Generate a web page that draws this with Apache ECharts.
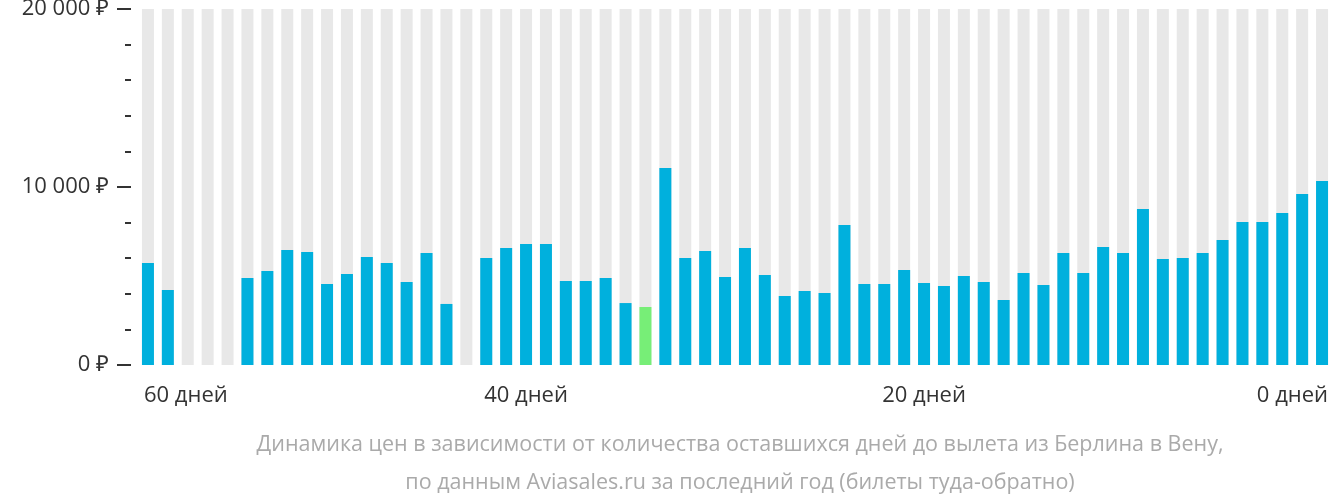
<!DOCTYPE html>
<html><head><meta charset="utf-8">
<script src="https://cdn.jsdelivr.net/npm/echarts@6/dist/echarts.min.js"></script>
<style>html,body{margin:0;padding:0;background:#fff}#c{width:1332px;height:502px}</style>
</head><body><div id="c"></div>
<script>
var prices=[5730,4210,0,0,0,4890,5280,6460,6350,4550,5110,6070,5730,4660,6290,3430,0,6010,6570,6800,6800,4720,4720,4890,3480,3260,11070,6010,6400,4940,6570,5060,3880,4160,4040,7870,4550,4550,5340,4610,4440,5000,4660,3650,5170,4490,6290,5170,6630,6290,8760,5960,6010,6290,7020,8030,8030,8540,9610,10340];
var minIndex=25;
var xLabels={0:'60 дней',19:'40 дней',39:'20 дней',59:'0 дней'};
var yTicks=[0,10000,20000];
var cats=prices.map(function(_,i){return String(i);});
var chart=echarts.init(document.getElementById('c'));
chart.setOption({
  animation:false,
  title:{text:'Динамика цен в зависимости от количества оставшихся дней до вылета из Берлина в Вену,\nпо данным Aviasales.ru за последний год (билеты туда-обратно)',
    left:735,textAlign:'center',top:421,
    textStyle:{color:'#aaaaaa',fontSize:21.5,fontWeight:'normal',fontFamily:'Open Sans',lineHeight:38}},
  grid:{left:138,right:0,top:9,bottom:137,outerBoundsMode:'none',containLabel:false},
  xAxis:{type:'category',data:cats,axisLine:{show:false},axisTick:{show:false},
    axisLabel:{interval:0,margin:20,fontSize:22,color:'#333',fontFamily:'Open Sans',
      formatter:function(v,i){return xLabels[i]||'';},
      rich:{}}},
  yAxis:{type:'value',min:0,max:20000,interval:10000,offset:7,
    splitLine:{show:false},axisLine:{show:false},
    axisTick:{show:true,length:14,lineStyle:{color:'#333',width:2}},
    minorTick:{show:true,splitNumber:5,length:6,lineStyle:{color:'#333',width:2}},
    axisLabel:{margin:22,fontSize:22,color:'#333',fontFamily:'Open Sans',
      formatter:function(v){return yTicks.indexOf(v)>=0?(v===0?'0 ₽':(v/1000)+' 000 ₽'):'';}}},
  series:[{type:'bar',barWidth:12,showBackground:true,backgroundStyle:{color:'#e8e8e8'},
    data:prices.map(function(v,i){return {value:v,itemStyle:{color:i===minIndex?'#77ee77':'#00b0dd'}};})}]
});
chart.setOption({xAxis:{data:cats.map(function(c,i){
  var a=i===0?'left':(i===59?'right':'center');
  return {value:c,textStyle:{align:a,padding:i===0?[0,0,0,-4]:(i===59?[0,-6,0,0]:0)}};
})}});
</script></body></html>
